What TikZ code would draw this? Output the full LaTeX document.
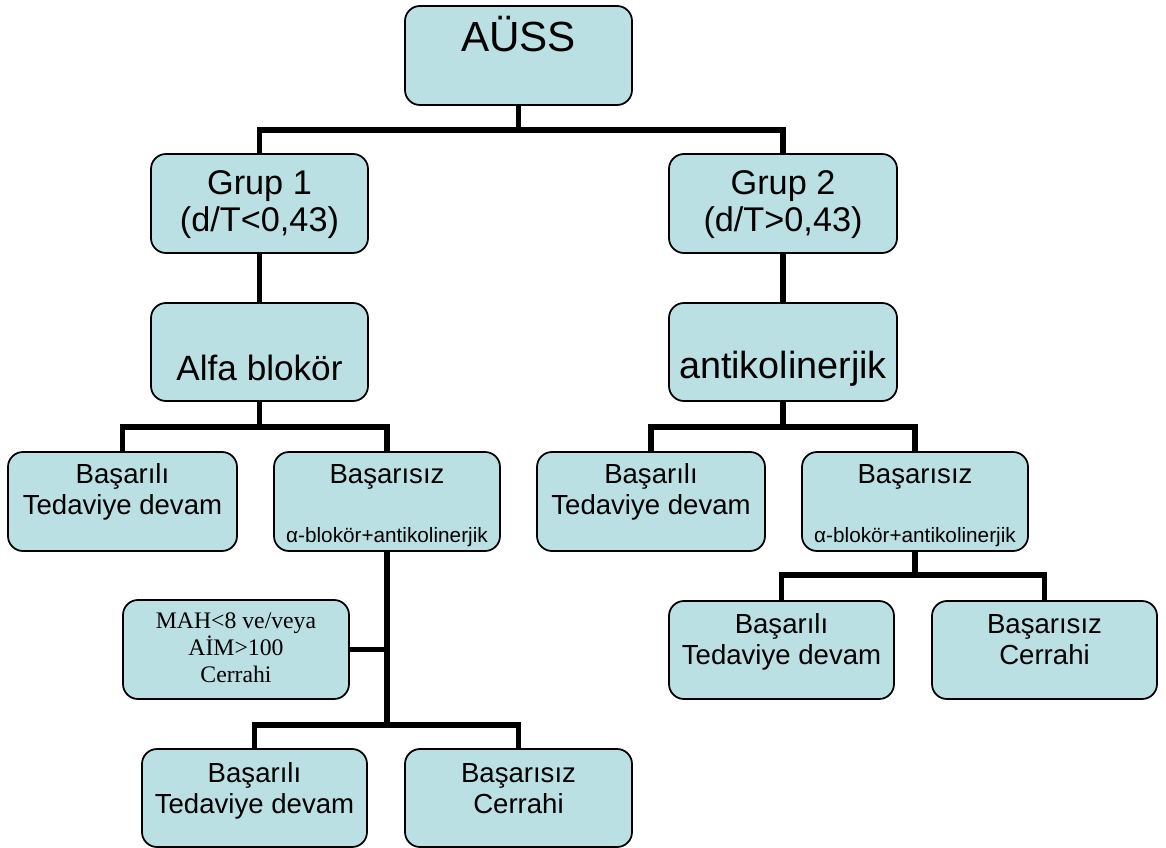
\documentclass[tikz,border=0pt]{standalone}
\usepackage{fontspec}
\setmainfont{Liberation Sans}
\newfontfamily\timesfont{Liberation Serif}
\definecolor{boxfill}{RGB}{187,224,227}
\newdimen\px \px=0.02cm
\newcommand{\boxtext}[4]{\parbox[c][#2\px][t]{#1\px}{\centering\rule{0pt}{#3\px}#4}}

\begin{document}
\begin{tikzpicture}[x=0.02cm, y=-0.02cm,
  box/.style={draw=black, line width=1pt, rounded corners=8.5pt, fill=boxfill, inner sep=0pt},
  conn/.style={line width=3.2pt, line join=miter}]
\useasboundingbox (0,0) rectangle (1166,848);

\node[box] (aus) at (518.5,55.5) {\boxtext{227}{99}{46}{\fontsize{24pt}{29pt}\selectfont AÜSS}};
\node[box] (grupA) at (259.5,203.5) {\boxtext{217}{99}{40}{\fontsize{19.5pt}{21.6pt}\selectfont Grup 1\\(d/T<0,43)}};
\node[box] (grupB) at (783,203.5) {\boxtext{228}{99}{40}{\fontsize{19.5pt}{21.6pt}\selectfont Grup 2\\(d/T>0,43)}};
\node[box] (alfa) at (259.5,352) {\boxtext{217}{98}{77}{\fontsize{20pt}{24pt}\selectfont Alfa blokör}};
\node[box] (anti) at (783,352) {\boxtext{228}{98}{75}{\fontsize{21.5pt}{24pt}\selectfont antikolinerjik}};

\node[box] (okA) at (122.5,501.5) {\boxtext{229}{99}{31}{\fontsize{15.7pt}{18pt}\selectfont Başarılı\\Tedaviye devam}};
\node[box] (failA) at (387,501.5) {\boxtext{226}{99}{31}{\fontsize{15.7pt}{18pt}\selectfont Başarısız\\[15.6pt]\fontsize{11.8pt}{18pt}\selectfont α-blokör+antikolinerjik}};
\node[box] (okB) at (651,501.5) {\boxtext{228}{99}{31}{\fontsize{15.7pt}{18pt}\selectfont Başarılı\\Tedaviye devam}};
\node[box] (failB) at (915,501.5) {\boxtext{226}{99}{31}{\fontsize{15.7pt}{18pt}\selectfont Başarısız\\[15.6pt]\fontsize{11.8pt}{18pt}\selectfont α-blokör+antikolinerjik}};

\node[box] (mah) at (236,649.5) {\boxtext{226}{99}{28}{\timesfont\fontsize{13.5pt}{15.65pt}\selectfont MAH<8 ve/veya\\AİM>100\\Cerrahi}};
\node[box] (okC) at (254.5,798) {\boxtext{225}{98}{33}{\fontsize{15.7pt}{18pt}\selectfont Başarılı\\Tedaviye devam}};
\node[box] (failC) at (518.5,798) {\boxtext{227}{98}{33}{\fontsize{15.7pt}{18pt}\selectfont Başarısız\\Cerrahi}};
\node[box] (okD) at (781.5,650) {\boxtext{225}{98}{32}{\fontsize{15.7pt}{18pt}\selectfont Başarılı\\Tedaviye devam}};
\node[box] (failD) at (1044.5,650) {\boxtext{225}{98}{32}{\fontsize{15.7pt}{18pt}\selectfont Başarısız\\Cerrahi}};

\coordinate (j1) at (518.5,130);
\coordinate (j2) at (259.5,427);
\coordinate (j3) at (783,427);
\coordinate (j4) at (387,725);
\coordinate (j5) at (915,575);

\draw[conn] (aus.south) -- (j1); %%top
\draw[conn] (grupA.north) |- (j1) -| (grupB.north);
\draw[conn] (grupA.south) -- (alfa.north);
\draw[conn] (grupB.south) -- (anti.north);
\draw[conn] (alfa.south) -- (j2);
\draw[conn] (okA.north) |- (j2) -| (failA.north);
\draw[conn] (anti.south) -- (j3);
\draw[conn] (okB.north) |- (j3) -| (failB.north);
\draw[conn] (failA.south) -- (j4); %%LeftDown
\draw[conn] (mah.east) -- (mah.east -| j4);
\draw[conn] (okC.north) |- (j4) -| (failC.north);
\draw[conn] (failB.south) -- (j5); %%RightDown
\draw[conn] (okD.north) |- (j5) -| (failD.north);
\end{tikzpicture}
\end{document}
